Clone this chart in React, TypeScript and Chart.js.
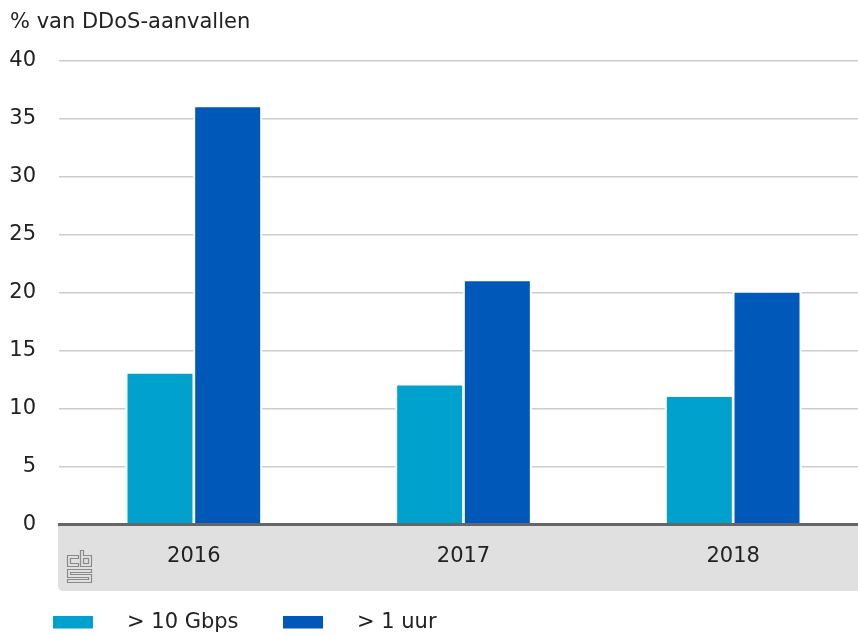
import React, { useEffect, useRef } from "react";
import { Chart, registerables } from "chart.js";

Chart.register(...registerables);

const categories = ["2016", "2017", "2018"];
const seriesLabels = ["> 10 Gbps", "> 1 uur"];
const seriesGbps = [13, 12, 11];
const seriesUur = [36, 21, 20];
const seriesColors = ["#00a1cd", "#0058b8"];
const yTitle = "% van DDoS-aanvallen";
const yMin = 0;
const yMax = 40;
const yStep = 5;

const FONT = "'DejaVu Sans', sans-serif";
const FONT_SIZE = 21;
const TEXT_COLOR = "#222222";

const decorPlugin = {
  id: "decor",
  beforeDraw(chart: any) {
    const ctx = chart.ctx;
    const area = chart.chartArea;
    ctx.save();
    // grey x-axis band
    const x0 = area.left - 1;
    const y0 = area.bottom;
    const x1 = chart.width;
    const y1 = 591;
    const r = 6;
    ctx.fillStyle = "#e0e0e0";
    ctx.beginPath();
    ctx.moveTo(x0, y0);
    ctx.lineTo(x1, y0);
    ctx.lineTo(x1, y1);
    ctx.lineTo(x0 + r, y1);
    ctx.quadraticCurveTo(x0, y1, x0, y1 - r);
    ctx.closePath();
    ctx.fill();

    // CBS-like logo
    ctx.translate(67.5, 550.5);
    ctx.strokeStyle = "#8a8a8a";
    ctx.lineWidth = 1.2;
    // c
    ctx.beginPath();
    ctx.moveTo(11, 5); ctx.lineTo(0, 5); ctx.lineTo(0, 16); ctx.lineTo(11, 16);
    ctx.lineTo(11, 13); ctx.lineTo(3, 13); ctx.lineTo(3, 8); ctx.lineTo(11, 8); ctx.closePath();
    ctx.stroke();
    // b
    ctx.beginPath();
    ctx.moveTo(13, 0); ctx.lineTo(16, 0); ctx.lineTo(16, 5); ctx.lineTo(24, 5);
    ctx.lineTo(24, 16); ctx.lineTo(13, 16); ctx.closePath();
    ctx.stroke();
    ctx.strokeRect(16, 8, 5, 5);
    // S
    ctx.beginPath();
    ctx.moveTo(0, 19); ctx.lineTo(24, 19); ctx.lineTo(24, 22); ctx.lineTo(3, 22);
    ctx.lineTo(3, 24); ctx.lineTo(24, 24); ctx.lineTo(24, 32); ctx.lineTo(0, 32);
    ctx.lineTo(0, 29); ctx.lineTo(21, 29); ctx.lineTo(21, 27); ctx.lineTo(0, 27);
    ctx.closePath();
    ctx.stroke();
    ctx.restore();
  },
  beforeDatasetsDraw(chart: any) {
    // white halo around each bar (cuts the gridlines like the reference)
    const ctx = chart.ctx;
    ctx.save();
    ctx.fillStyle = "#ffffff";
    chart.data.datasets.forEach((_: any, di: number) => {
      const meta = chart.getDatasetMeta(di);
      meta.data.forEach((bar: any) => {
        const { x, y, base, width } = bar.getProps(["x", "y", "base", "width"], true);
        ctx.fillRect(x - width / 2 - 2, y - 2, width + 4, base - y + 2);
      });
    });
    ctx.restore();
  },
  afterDraw(chart: any) {
    const ctx = chart.ctx;
    ctx.save();
    ctx.font = `${FONT_SIZE}px ${FONT}`;
    ctx.fillStyle = TEXT_COLOR;
    ctx.textBaseline = "alphabetic";
    ctx.textAlign = "left";
    ctx.fillText(yTitle, 10, 28);

    // legend
    const items = chart.data.datasets;
    const startX = [53, 283];
    items.forEach((ds: any, i: number) => {
      const bx = startX[i];
      ctx.fillStyle = ds.backgroundColor;
      ctx.fillRect(bx, 616, 40, 12.5);
      ctx.fillStyle = TEXT_COLOR;
      ctx.textBaseline = "middle";
      ctx.fillText(ds.label, bx + 74, 623);
    });
    ctx.restore();
  },
};

export default function App() {
  const ref = useRef<HTMLCanvasElement | null>(null);
  useEffect(() => {
    if (!ref.current) return;
    const barCommon = {
      borderWidth: 0,
      categoryPercentage: 0.502,
      barPercentage: 0.96,
    };
    const chart = new Chart(ref.current, {
      type: "bar",
      data: {
        labels: categories,
        datasets: [
          {
            label: seriesLabels[0],
            data: seriesGbps,
            backgroundColor: seriesColors[0],
            ...barCommon,
          },
          {
            label: seriesLabels[1],
            data: seriesUur,
            backgroundColor: seriesColors[1],
            ...barCommon,
          },
        ],
      },
      options: {
        responsive: false,
        animation: false,
        layout: { padding: { top: 61, left: 0, right: 2, bottom: 0 } },
        plugins: {
          legend: { display: false },
          tooltip: { enabled: false },
          title: { display: false },
        },
        scales: {
          x: {
            grid: { display: false, drawTicks: false },
            border: { display: true, color: "#666666", width: 3, z: 1 },
            ticks: {
              padding: 19,
              color: TEXT_COLOR,
              font: { family: FONT, size: FONT_SIZE },
            },
            afterFit(scale: any) {
              scale.height = 110.5;
            },
          },
          y: {
            min: yMin,
            max: yMax,
            grid: { color: "#cccccc", lineWidth: 1.6, drawTicks: false },
            border: { display: false },
            ticks: {
              stepSize: yStep,
              padding: 23,
              color: TEXT_COLOR,
              font: { family: FONT, size: FONT_SIZE },
            },
            afterFit(scale: any) {
              scale.width = 59;
            },
          },
        },
      },
      plugins: [decorPlugin],
    });
    return () => chart.destroy();
  }, []);
  return (
    <div
      style={{
        position: "absolute",
        left: 0,
        top: 0,
        width: 858,
        height: 635,
        overflow: "hidden",
        background: "#ffffff",
      }}
    >
      <canvas ref={ref} width={870} height={635} style={{ display: "block" }} />
    </div>
  );
}
